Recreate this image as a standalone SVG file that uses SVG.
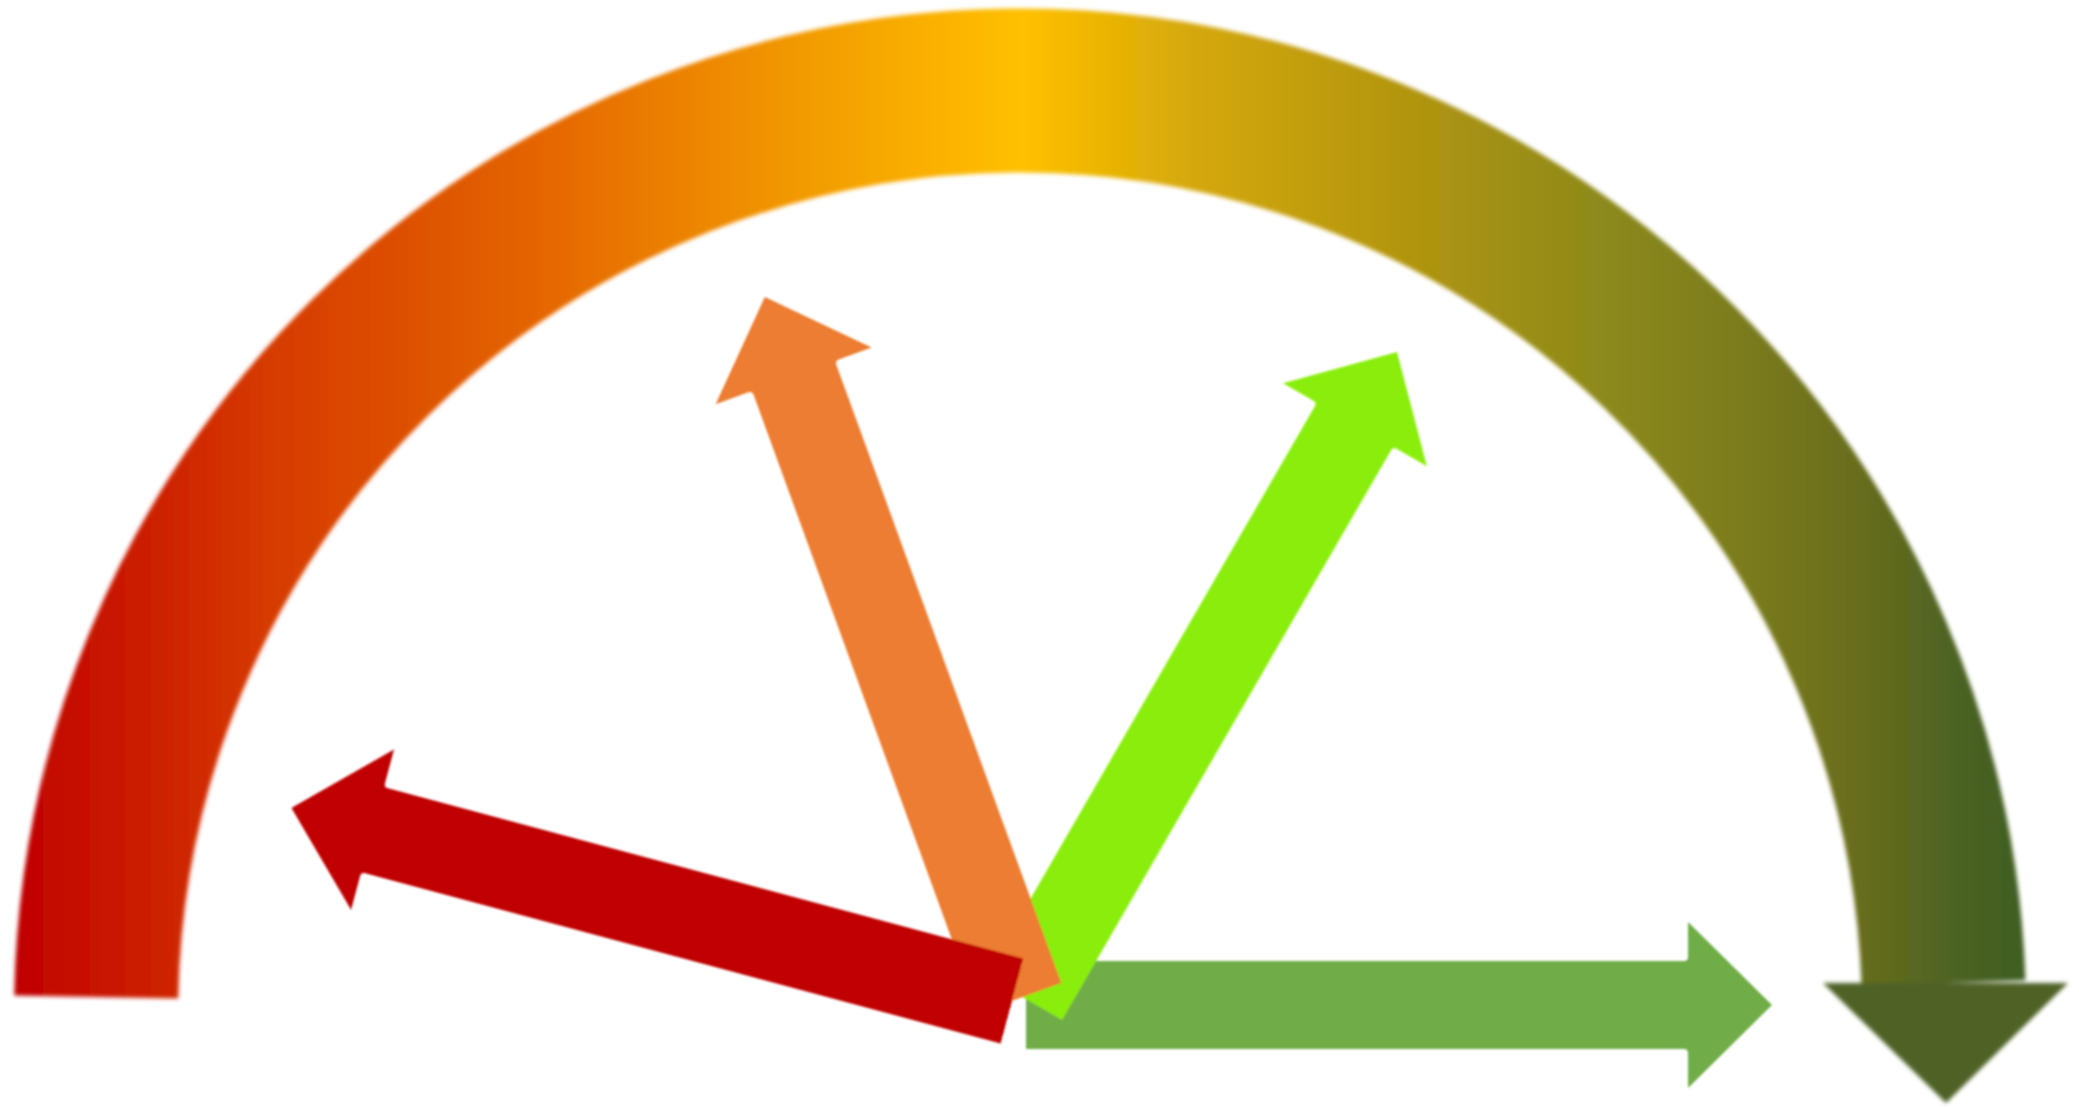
<svg xmlns="http://www.w3.org/2000/svg" width="2079" height="1108" viewBox="0 0 2079 1108">
  <defs>
    <linearGradient id="gaugeGrad" gradientUnits="userSpaceOnUse" x1="14" y1="0" x2="2026" y2="0">
      <stop offset="0" stop-color="#C00000"/>
      <stop offset="0.125" stop-color="#D63A00"/>
      <stop offset="0.257" stop-color="#E46400"/>
      <stop offset="0.39" stop-color="#F29A00"/>
      <stop offset="0.501" stop-color="#FFC000"/>
      <stop offset="0.587" stop-color="#D4A80A"/>
      <stop offset="0.686" stop-color="#B4960F"/>
      <stop offset="0.785" stop-color="#8E8A1A"/>
      <stop offset="0.858" stop-color="#7B7C1C"/>
      <stop offset="0.912" stop-color="#6A6E1C"/>
      <stop offset="0.97" stop-color="#4A6223"/>
      <stop offset="1" stop-color="#3F5E24"/>
    </linearGradient>
    <filter id="softArc" filterUnits="userSpaceOnUse" x="0" y="0" width="2079" height="1108">
      <feGaussianBlur stdDeviation="2"/>
    </filter>
    <filter id="softArrow" filterUnits="userSpaceOnUse" x="0" y="0" width="2079" height="1108">
      <feGaussianBlur stdDeviation="0.8"/>
    </filter>
    <path id="needle" d="M0,-44 H658 Q662,-44 662,-48 V-83 L746,0 L662,83 V48 Q662,44 658,44 H0 Z"/>
  </defs>
  <style>
    .gauge { fill: none; stroke: url(#gaugeGrad); stroke-width: 164; stroke-linecap: butt; }
    .gaugeHead { fill: #4F6228; }
  </style>

  <g id="gauge" filter="url(#softArc)">
    <path class="gauge" d="M96.2,997 A924,924 0 0 1 1943.5,983"/>
    <polygon class="gaugeHead" points="1823,983 2068,983 1946,1103"/>
  </g>

  <g id="connectors" filter="url(#softArrow)">
    <g id="arrow-green"><use href="#needle" fill="#70AD47" transform="translate(1026,1005)"/></g>
    <g id="arrow-lime"><use href="#needle" fill="#8AEE0A" transform="translate(1024,998) rotate(-60)"/></g>
    <g id="arrow-orange"><use href="#needle" fill="#ED7D31" transform="translate(1020,998) rotate(-110)"/></g>
    <g id="arrow-red"><use href="#needle" fill="#C00000" transform="translate(1012,1001) rotate(-165)"/></g>
  </g>
</svg>
